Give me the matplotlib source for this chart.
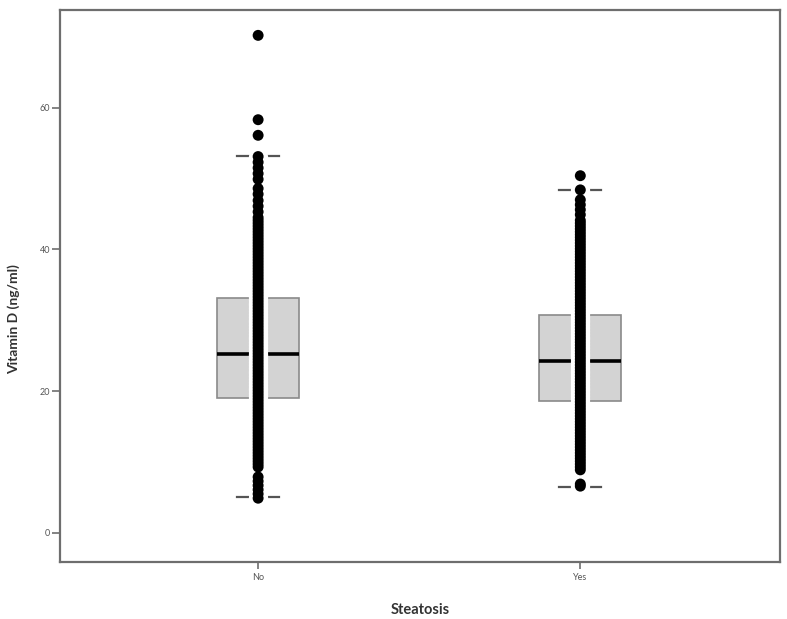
import matplotlib
matplotlib.use("Agg")
import matplotlib.pyplot as plt

plt.rcParams['font.family'] = ['Lato', 'DejaVu Sans']

groups = ["No", "Yes"]

# box statistics (ng/ml)
q1 = [19.1, 18.6]
med = [25.3, 24.3]
q3 = [33.2, 30.8]
whis_lo = [5.0, 6.5]
whis_hi = [53.2, 48.4]

# individual observations (dense column of dots)
no_vals = [4.9, 5.5, 6.1, 6.7, 7.3, 7.9,
           9.3, 9.7, 10.1, 10.5, 10.9, 11.3, 11.7, 12.1, 12.5, 12.9, 13.3,
           13.7, 14.1, 14.5, 14.9, 15.3, 15.7, 16.1, 16.5, 16.9, 17.3, 17.7,
           18.1, 18.5, 18.9, 19.3, 19.7, 20.1, 20.5, 20.9, 21.3, 21.7, 22.1,
           22.5, 22.9, 23.3, 23.7, 24.1, 24.5, 24.9, 25.3, 25.7, 26.1, 26.5,
           26.9, 27.3, 27.7, 28.1, 28.5, 28.9, 29.3, 29.7, 30.1, 30.5, 30.9,
           31.3, 31.7, 32.1, 32.5, 32.9, 33.3, 33.7, 34.1, 34.5, 34.9, 35.3,
           35.7, 36.1, 36.5, 36.9, 37.3, 37.7, 38.1, 38.5, 38.9, 39.3, 39.7,
           40.1, 40.5, 40.9, 41.3, 41.7, 42.1, 42.5, 42.9, 43.3, 43.7, 44.1,
           44.5, 45.3, 46.1, 46.9, 47.8, 48.6,
           49.9, 50.7, 51.5, 52.3, 53.1, 56.1, 58.3, 70.2]
yes_vals = [6.6, 6.9,
            8.9, 9.3, 9.7, 10.1, 10.5, 10.9, 11.3, 11.7, 12.1, 12.5, 12.9,
            13.3, 13.7, 14.1, 14.5, 14.9, 15.3, 15.7, 16.1, 16.5, 16.9, 17.3,
            17.7, 18.1, 18.5, 18.9, 19.3, 19.7, 20.1, 20.5, 20.9, 21.3, 21.7,
            22.1, 22.5, 22.9, 23.3, 23.7, 24.1, 24.5, 24.9, 25.3, 25.7, 26.1,
            26.5, 26.9, 27.3, 27.7, 28.1, 28.5, 28.9, 29.3, 29.7, 30.1, 30.5,
            30.9, 31.3, 31.7, 32.1, 32.5, 32.9, 33.3, 33.7, 34.1, 34.5, 34.9,
            35.3, 35.7, 36.1, 36.5, 36.9, 37.3, 37.7, 38.1, 38.5, 38.9, 39.3,
            39.7, 40.1, 40.5, 40.9, 41.3, 41.7, 42.1, 42.5, 42.9, 43.3, 43.7,
            44.1, 44.9, 45.6, 46.3, 47.0, 48.4, 50.4]

fig = plt.figure(figsize=(7.87, 6.19), dpi=100)
ax = fig.add_axes([0.0762, 0.0921, 0.915, 0.892])

stats = []
for i, g in enumerate(groups):
    stats.append(dict(label=g, med=med[i], q1=q1[i], q3=q3[i],
                      whislo=whis_lo[i], whishi=whis_hi[i], fliers=[]))

ax.bxp(stats, positions=[1, 2], widths=0.255, capwidths=0.13,
       patch_artist=True, showfliers=False,
       boxprops=dict(facecolor='#d3d3d3', edgecolor='#8a8a8a', linewidth=1.2),
       medianprops=dict(color='black', linewidth=2.6),
       whiskerprops=dict(color='#555555', linewidth=1.2),
       capprops=dict(color='#555555', linewidth=1.6))

for pos, vals in zip([1, 2], [no_vals, yes_vals]):
    xs = [pos] * len(vals)
    # white halo under the dots, then solid dots on top
    ax.scatter(xs, vals, s=62, color='black', edgecolors='white',
               linewidths=6, zorder=3)
    ax.scatter(xs, vals, s=62, color='black', edgecolors='none', zorder=4)

ax.set_xlim(0.385, 2.62)
ax.set_ylim(-4.1, 73.8)
ax.set_yticks([0, 20, 40, 60])
ax.set_xticks([1, 2])
ax.set_xticklabels(groups)

for sp in ax.spines.values():
    sp.set_color('#6e6e6e')
    sp.set_linewidth(1.6)

ax.tick_params(axis='y', length=6, width=1.2, color='#6e6e6e',
               labelsize=6.5, labelcolor='#555555', pad=1)
ax.tick_params(axis='x', length=5, width=1.2, color='#6e6e6e',
               labelsize=6.5, labelcolor='#555555', pad=3)

ax.set_ylabel("Vitamin D (ng/ml)", fontsize=10, fontweight='bold',
              color='#333333')
ax.yaxis.set_label_coords(-0.056, 0.44)
ax.set_xlabel("Steatosis", fontsize=10.5, fontweight='bold', color='#333333')
ax.xaxis.set_label_coords(0.5, -0.075)

fig.savefig("out.png", dpi=100)
